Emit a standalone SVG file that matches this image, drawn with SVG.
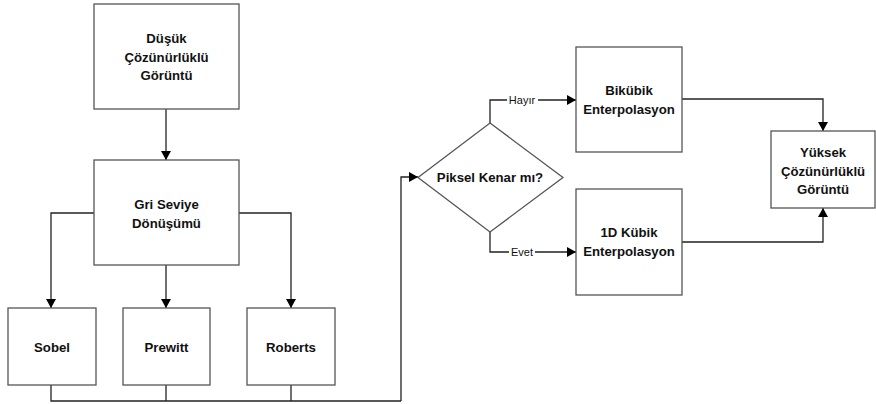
<svg xmlns="http://www.w3.org/2000/svg" width="876" height="404" viewBox="0 0 876 404">
  <defs>
    <marker id="arrow" markerWidth="10" markerHeight="10" refX="9" refY="5" orient="auto" markerUnits="userSpaceOnUse">
      <path d="M0,0 L9,5 L0,10 Z" fill="#000"/>
    </marker>
    <style>
      .box { fill: #fff; stroke: #555; stroke-width: 1.3; }
      .lbl { font-family: "Liberation Sans", Arial, sans-serif; font-weight: bold; font-size: 13.2px; fill: #111; text-anchor: middle; }
      .small { font-family: "Liberation Sans", Arial, sans-serif; font-size: 11px; fill: #111; text-anchor: middle; }
      .conn { fill: none; stroke: #222; stroke-width: 1.3; }
    </style>
  </defs>
  <rect width="876" height="404" fill="#fff"/>

  <g id="connectors">
    <path class="conn" d="M166,109 V160" marker-end="url(#arrow)"/>
    <path class="conn" d="M94,213 H51 V308" marker-end="url(#arrow)"/>
    <path class="conn" d="M166,265 V308" marker-end="url(#arrow)"/>
    <path class="conn" d="M239,213 H291 V308" marker-end="url(#arrow)"/>
    <path class="conn" d="M51,385 V401 H401"/>
    <path class="conn" d="M166,385 V401"/>
    <path class="conn" d="M291,385 V401"/>
    <path class="conn" d="M401,401 V177 H418" stroke-width="1.8" marker-end="url(#arrow)"/>
    <path class="conn" d="M490,123 V100 H576" marker-end="url(#arrow)"/>
    <path class="conn" d="M490,232 V252 H576" marker-end="url(#arrow)"/>
    <path class="conn" d="M682,99 H823 V131" marker-end="url(#arrow)"/>
    <path class="conn" d="M682,242 H823 V208" marker-end="url(#arrow)"/>
    <rect x="507" y="94" width="31" height="12" fill="#fff"/>
    <text class="small" x="522" y="104">Hayır</text>
    <rect x="509" y="246" width="26" height="12" fill="#fff"/>
    <text class="small" x="522" y="256">Evet</text>
  </g>

  <g id="low-res">
    <rect class="box" x="94" y="4" width="145" height="105"/>
    <text class="lbl" x="166.5" y="43">Düşük</text>
    <text class="lbl" x="166.5" y="61.5">Çözünürlüklü</text>
    <text class="lbl" x="166.5" y="80">Görüntü</text>
  </g>

  <g id="gray">
    <rect class="box" x="94" y="160" width="145" height="105"/>
    <text class="lbl" x="166.5" y="209">Gri Seviye</text>
    <text class="lbl" x="166.5" y="227.5">Dönüşümü</text>
  </g>

  <g id="sobel">
    <rect class="box" x="8" y="308" width="88" height="77"/>
    <text class="lbl" x="52" y="352">Sobel</text>
  </g>

  <g id="prewitt">
    <rect class="box" x="123" y="308" width="87" height="77"/>
    <text class="lbl" x="166.5" y="352">Prewitt</text>
  </g>

  <g id="roberts">
    <rect class="box" x="247" y="308" width="88" height="77"/>
    <text class="lbl" x="291" y="352">Roberts</text>
  </g>

  <g id="decision">
    <polygon class="box" points="490,123 563,177.5 490,232 418,177.5"/>
    <text class="lbl" x="490" y="182">Piksel Kenar mı?</text>
  </g>

  <g id="bicubic">
    <rect class="box" x="576" y="47" width="106" height="105"/>
    <text class="lbl" x="629" y="95">Bikübik</text>
    <text class="lbl" x="629" y="113.5">Enterpolasyon</text>
  </g>

  <g id="cubic1d">
    <rect class="box" x="576" y="189" width="106" height="106"/>
    <text class="lbl" x="629" y="237">1D Kübik</text>
    <text class="lbl" x="629" y="255.5">Enterpolasyon</text>
  </g>

  <g id="high-res">
    <rect class="box" x="771" y="131" width="104" height="77"/>
    <text class="lbl" x="823" y="157">Yüksek</text>
    <text class="lbl" x="823" y="175.5">Çözünürlüklü</text>
    <text class="lbl" x="823" y="194">Görüntü</text>
  </g>
</svg>
